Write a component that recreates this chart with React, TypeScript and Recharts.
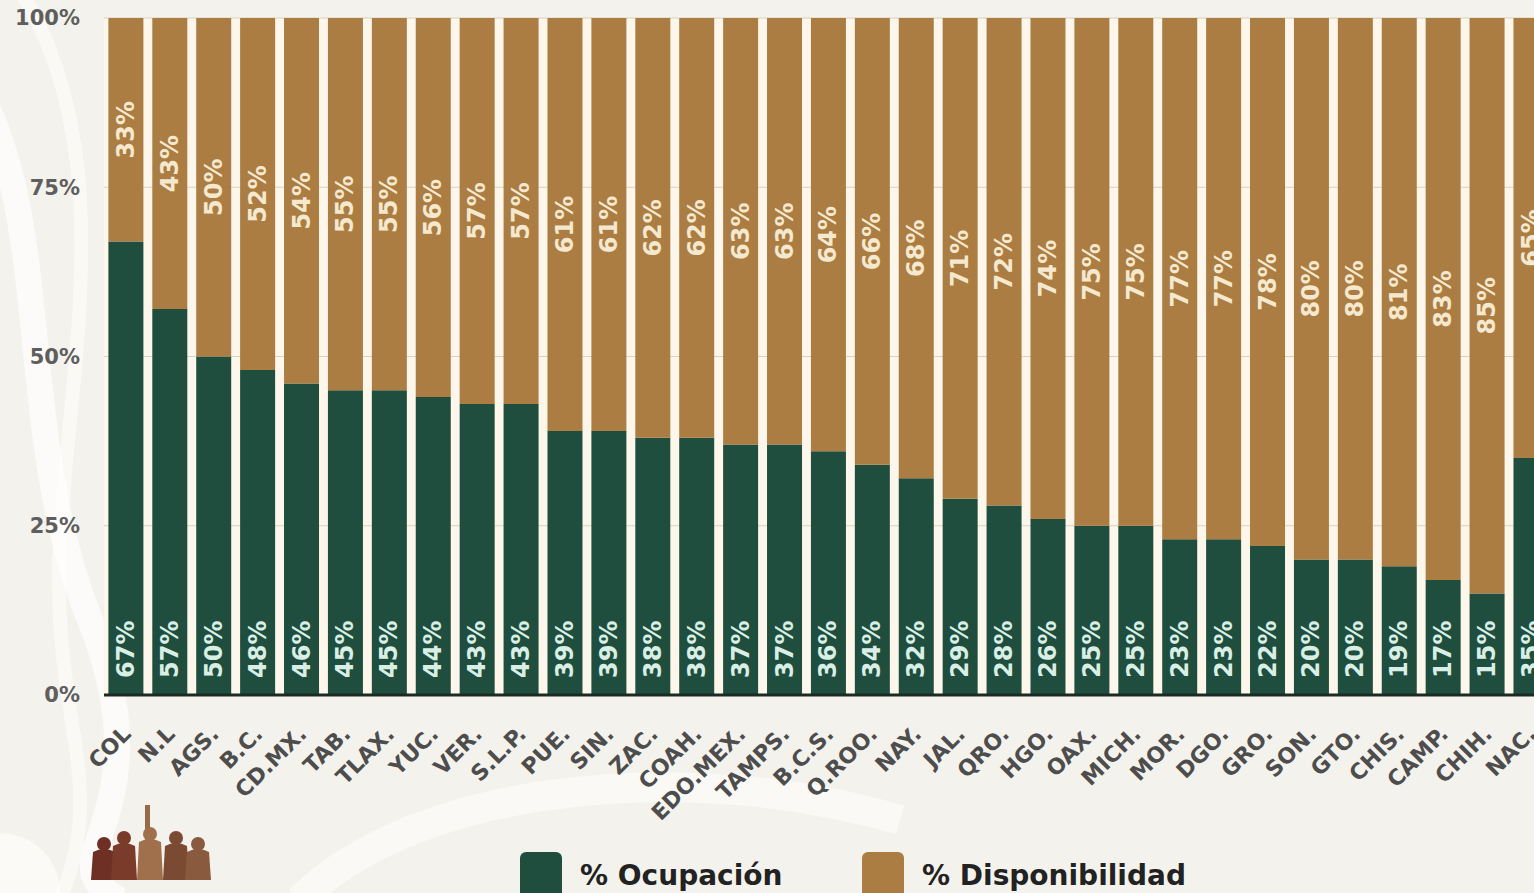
import React from 'react';
import { BarChart, Bar, XAxis, YAxis, CartesianGrid, LabelList } from 'recharts';

const estados = [
  'COL', 'N.L', 'AGS.', 'B.C.', 'CD.MX.', 'TAB.', 'TLAX.', 'YUC.', 'VER.', 'S.L.P.', 'PUE.',
  'SIN.', 'ZAC.', 'COAH.', 'EDO.MEX.', 'TAMPS.', 'B.C.S.', 'Q.ROO.', 'NAY.', 'JAL.', 'QRO.',
  'HGO.', 'OAX.', 'MICH.', 'MOR.', 'DGO.', 'GRO.', 'SON.', 'GTO.', 'CHIS.', 'CAMP.', 'CHIH.', 'NAC.',
];

const ocupacion = [67, 57, 50, 48, 46, 45, 45, 44, 43, 43, 39, 39, 38, 38, 37, 37, 36, 34, 32, 29, 28, 26, 25, 25, 23, 23, 22, 20, 20, 19, 17, 15, 35];
const disponibilidad = [33, 43, 50, 52, 54, 55, 55, 56, 57, 57, 61, 61, 62, 62, 63, 63, 64, 66, 68, 71, 72, 74, 75, 75, 77, 77, 78, 80, 80, 81, 83, 85, 65];

const yTicks = [0, 25, 50, 75, 100];

const GREEN = '#1f4d3e';
const TAN = '#ab7d42';
const FONT = '"DejaVu Sans", sans-serif';

const data = estados.map((estado, i) => ({
  estado,
  ocupacion: ocupacion[i],
  disponibilidad: disponibilidad[i],
}));

const box = (p: any) => {
  const vb = p.viewBox || {};
  return {
    x: p.x ?? vb.x,
    y: p.y ?? vb.y,
    width: p.width ?? vb.width,
    height: p.height ?? vb.height,
  };
};

// green labels sit at the foot of the bar, reading upward
const BottomLabel = (p: any) => {
  const { x, y, width, height } = box(p);
  const cx = x + width / 2;
  const by = y + height - 17;
  return (
    <text
      x={cx}
      y={by}
      transform={`rotate(-90 ${cx} ${by})`}
      textAnchor="start"
      dominantBaseline="central"
      fill="#d9efe5"
      fontSize={24}
      fontWeight="bold"
      fontFamily={FONT}
    >
      {p.value}%
    </text>
  );
};

const CenterLabel = (p: any) => {
  const { x, y, width, height } = box(p);
  const cx = x + width / 2;
  const cy = y + height / 2;
  return (
    <text
      x={cx}
      y={cy}
      transform={`rotate(-90 ${cx} ${cy})`}
      textAnchor="middle"
      dominantBaseline="central"
      fill="#f4e8cf"
      fontSize={24}
      fontWeight="bold"
      fontFamily={FONT}
    >
      {p.value}%
    </text>
  );
};

const EstadoTick = ({ x, y, payload }: any) => {
  const tx = x + 1;
  const ty = y + 27;
  return (
    <text
      x={tx}
      y={ty}
      transform={`rotate(-45 ${tx} ${ty})`}
      textAnchor="end"
      dominantBaseline="central"
      fill="#4d4d4d"
      fontSize={22}
      fontWeight="bold"
      fontFamily={FONT}
    >
      {payload.value}
    </text>
  );
};

const LegendItem = ({ color, label, left }: { color: string; label: string; left: number }) => (
  <div style={{ position: 'absolute', left, top: 852, display: 'flex', alignItems: 'flex-start' }}>
    <div style={{ width: 42, height: 48, background: color, borderRadius: 6 }} />
    <div
      style={{
        marginLeft: 18,
        marginTop: 4,
        lineHeight: '40px',
        fontSize: 28,
        fontWeight: 'bold',
        fontFamily: FONT,
        color: '#222',
      }}
    >
      {label}
    </div>
  </div>
);

// small sepia group of figures, bottom left
const Heroes = () => {
  const figs = [
    { x: 104, h: 36, c: '#6e2f25' },
    { x: 124, h: 42, c: '#7b3b2b' },
    { x: 150, h: 46, c: '#a0704c' },
    { x: 176, h: 42, c: '#7a4a33' },
    { x: 198, h: 36, c: '#8a5a3e' },
  ];
  return (
    <g>
      <rect x={145} y={805} width={5} height={40} fill="#9a6a48" />
      {figs.map((f, i) => (
        <g key={i}>
          <circle cx={f.x} cy={880 - f.h} r={7} fill={f.c} />
          <path d={`M${f.x - 13} 880 L${f.x - 11} ${888 - f.h} Q${f.x} ${882 - f.h} ${f.x + 11} ${888 - f.h} L${f.x + 13} 880 Z`} fill={f.c} />
        </g>
      ))}
    </g>
  );
};

export default function App() {
  return (
    <div
      style={{
        position: 'fixed',
        left: 0,
        top: 0,
        width: 1534,
        height: 893,
        overflow: 'hidden',
        background: '#f4f2ec',
      }}
    >
      <svg width={1534} height={893} style={{ position: 'absolute', left: 0, top: 0 }}>
        <path d="M-40 60 C 60 200, 10 420, 90 620 S 40 860, 120 900" stroke="#ffffff" strokeOpacity={0.7} strokeWidth={26} fill="none" />
        <path d="M20 -10 C 120 150, 70 360, 60 540 S 110 780, 60 900" stroke="#ffffff" strokeOpacity={0.5} strokeWidth={14} fill="none" />
        <path d="M300 900 C 420 780, 700 760, 900 820" stroke="#ffffff" strokeOpacity={0.5} strokeWidth={30} fill="none" />
        <circle cx={0} cy={893} r={60} fill="#ffffff" fillOpacity={0.6} />
        <Heroes />
      </svg>
      <div style={{ position: 'absolute', left: 0, top: 0 }}>
        <BarChart
          width={1560}
          height={893}
          data={data}
          margin={{ top: 18, right: 7, left: 0, bottom: 0 }}
          barCategoryGap="10%"
        >
          <CartesianGrid vertical={false} stroke="#d8d2c4" fill="#fcf7ea" />
          <XAxis
            dataKey="estado"
            interval={0}
            height={198}
            tickLine={false}
            axisLine={{ stroke: '#1c2a24', strokeWidth: 3 }}
            tick={<EstadoTick />}
          />
          <YAxis
            width={104}
            domain={[0, 100]}
            ticks={yTicks}
            tickFormatter={(v: number) => `${v}%`}
            axisLine={false}
            tickLine={false}
            tickMargin={18}
            tick={{ fill: '#5e5e5e', fontSize: 21, fontWeight: 'bold', fontFamily: FONT }}
          />
          <Bar dataKey="ocupacion" stackId="a" fill={GREEN} isAnimationActive={false}>
            <LabelList dataKey="ocupacion" content={BottomLabel} />
          </Bar>
          <Bar dataKey="disponibilidad" stackId="a" fill={TAN} isAnimationActive={false}>
            <LabelList dataKey="disponibilidad" content={CenterLabel} />
          </Bar>
        </BarChart>
      </div>
      <LegendItem color={GREEN} label="% Ocupación" left={520} />
      <LegendItem color={TAN} label="% Disponibilidad" left={862} />
    </div>
  );
}
